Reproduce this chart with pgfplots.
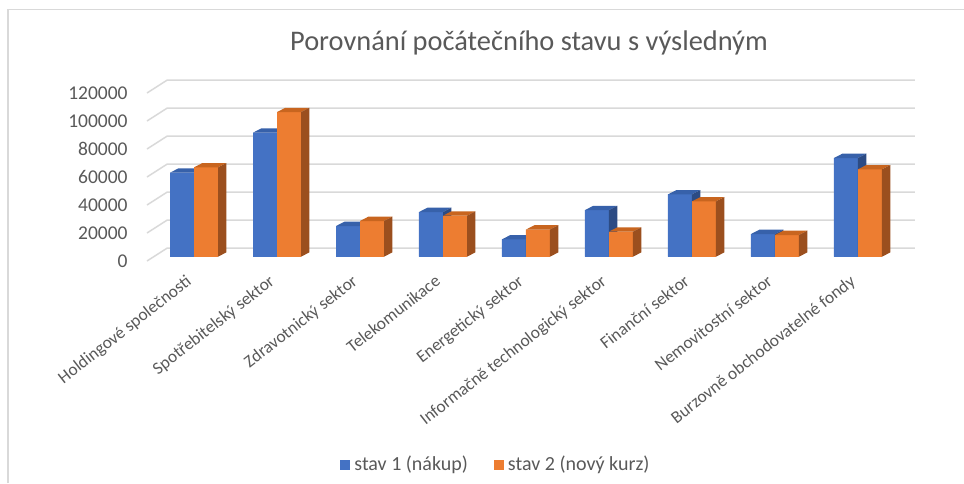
\documentclass[border=0pt]{standalone}
\usepackage{fontspec}
\setmainfont{Carlito}
\usepackage{pgfplots}
\usepackage{pgfplotstable}
\pgfplotsset{compat=1.18}
\definecolor{barblue}{HTML}{4472C4}
\definecolor{barorange}{HTML}{ED7D31}
\definecolor{blueTop}{HTML}{3761AA}
\definecolor{blueSide}{HTML}{2C4B84}
\definecolor{orangeTop}{HTML}{C8651F}
\definecolor{orangeSide}{HTML}{9B4F1E}
\definecolor{gridc}{HTML}{D9D9D9}
\definecolor{textgray}{HTML}{595959}

% #1 left edge (pt), #2 front colour, #3 top colour, #4 side colour
\newcommand\boxmark[4]{%
  \edef\hh{\fpeval{\rawy/120000*84}}%
  \pgfsetfillcolor{#2}%
  \pgfpathrectangle{\pgfpoint{#1pt}{-\hh pt}}{\pgfpoint{12pt}{\hh pt}}%
  \pgfusepath{fill}%
  \pgfsetfillcolor{#3}%
  \pgfpathmoveto{\pgfpoint{#1pt}{0pt}}%
  \pgfpathlineto{\pgfpoint{#1pt+12pt}{0pt}}%
  \pgfpathlineto{\pgfpoint{#1pt+16.15pt}{2.15pt}}%
  \pgfpathlineto{\pgfpoint{#1pt+4.15pt}{2.15pt}}%
  \pgfpathclose\pgfusepath{fill}%
  \pgfsetfillcolor{#4}%
  \pgfpathmoveto{\pgfpoint{#1pt+12pt}{0pt}}%
  \pgfpathlineto{\pgfpoint{#1pt+16.15pt}{2.15pt}}%
  \pgfpathlineto{\pgfpoint{#1pt+16.15pt}{2.15pt-\hh pt}}%
  \pgfpathlineto{\pgfpoint{#1pt+12pt}{-\hh pt}}%
  \pgfpathclose\pgfusepath{fill}%
}
\pgfdeclareplotmark{bluebox}{\boxmark{-12}{barblue}{blueTop}{blueSide}}
\pgfdeclareplotmark{orangebox}{\boxmark{0}{barorange}{orangeTop}{orangeSide}}

\pgfplotstableread{
x s1 s2
0 60000 63800
1 88600 103300
2 21900 25500
3 31900 29300
4 12400 19400
5 33300 17900
6 44500 39500
7 16200 15500
8 70500 62400
}\data

\begin{document}
\begin{tikzpicture}
\useasboundingbox (0,0) rectangle (482pt,241.5pt);
\draw[gridc, line width=0.75pt] (4pt,0) -- (4pt,236.75pt) -- (482pt,236.75pt);
\node[anchor=base, font=\fontsize{14.2}{16}\selectfont, text=textgray] at (264.5pt,216.15pt) {Porovnání počátečního stavu s výsledným};
\begin{axis}[
  at={(76.25pt,113.15pt)}, anchor=south west,
  scale only axis, width=373.5pt, height=84pt,
  xmin=-0.5, xmax=8.5, ymin=0, ymax=120000,
  enlargelimits=false, clip=false,
  axis line style={draw=none},
  major tick length=0pt,
  xticklabel pos=lower, yticklabel pos=left,
  xtick={0,...,8},
  xticklabels={Holdingové společnosti,Spotřebitelský sektor,Zdravotnický sektor,Telekomunikace,Energetický sektor,Informačně technologický sektor,Finanční sektor,Nemovitostní sektor,Burzovně obchodovatelné fondy},
  ytick={0,20000,40000,60000,80000,100000,120000},
  yticklabels={0,20000,40000,60000,80000,100000,120000},
  scaled y ticks=false,
  tick label style={text=textgray, inner sep=0pt},
  yticklabel style={font=\fontsize{9.75}{11}\selectfont, anchor=east, xshift=-12.25pt, yshift=-2.15pt},
  xticklabel style={font=\fontsize{8.7}{10}\selectfont, xshift=-4.5pt, yshift=-8.4pt, rotate=38, anchor=north east},
  ybar, bar width=12pt,
  legend columns=2,
  legend style={at={(axis description cs:0.251,-1.24)}, anchor=west, draw=none, fill=none, inner sep=0pt,
    font=\fontsize{10}{12}\selectfont, text=textgray,
    /tikz/every even column/.append style={column sep=11pt}},
  legend image code/.code={\fill[#1] (0pt,-2.5pt) rectangle (5pt,2.5pt);},
]
\pgfplotsinvokeforeach{0,20000,40000,60000,80000,100000,120000}{
  \draw[gridc, line width=0.75pt] ([shift={(-2.75pt,-2.15pt)}]axis cs:-0.5,#1) -- ([shift={(7.25pt,4.25pt)}]axis cs:-0.5,#1) -- ([shift={(7.75pt,4.25pt)}]axis cs:8.5,#1);
}
\addplot[ybar, bar shift=-6pt, fill=barblue, draw=none, mark=bluebox,
  scatter, scatter/@pre marker code/.code={}, scatter/@post marker code/.code={},
  visualization depends on={rawy \as \rawy}] table[x=x, y=s1] {\data};
\addlegendentry{stav 1 (nákup)}
\addplot[ybar, bar shift=6pt, fill=barorange, draw=none, mark=orangebox,
  scatter, scatter/@pre marker code/.code={}, scatter/@post marker code/.code={},
  visualization depends on={rawy \as \rawy}] table[x=x, y=s2] {\data};
\addlegendentry{stav 2 (nový kurz)}
\end{axis}
\end{tikzpicture}
\end{document}
